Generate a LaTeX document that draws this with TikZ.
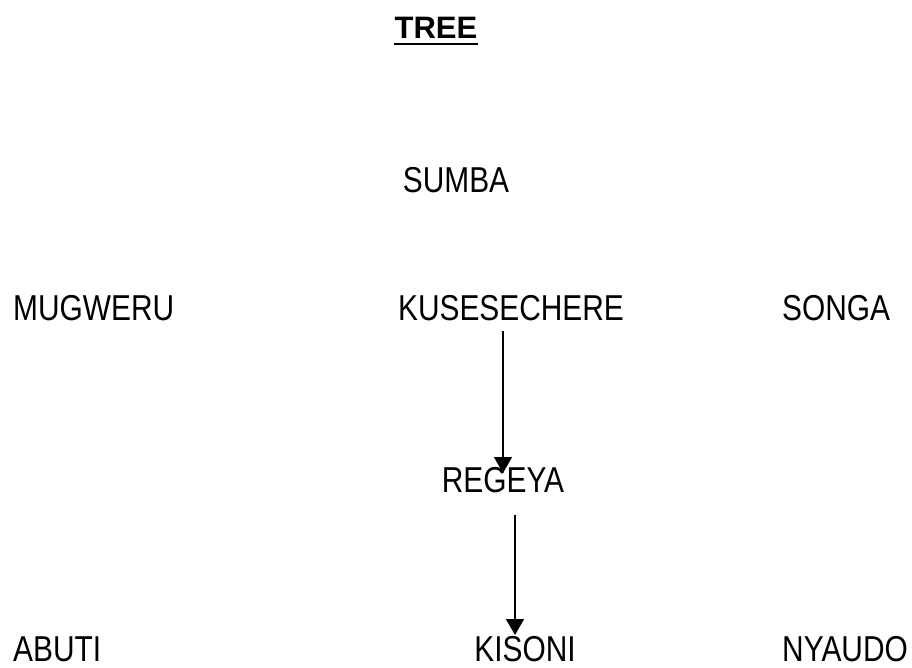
\documentclass[tikz,border=0pt]{standalone}
\usepackage{fontspec}
\setmainfont{Liberation Sans}[FakeStretch=0.83]
\newfontfamily\titlefont{Liberation Sans}
\usepackage{tikz}
\usetikzlibrary{calc,arrows.meta}

\begin{document}
\begin{tikzpicture}[x=1pt,y=-1pt,
        place/.style={inner sep=0pt,font=\fontsize{36}{40}\selectfont},
        link/.style={line width=1.6pt,-{Triangle[length=16pt,width=18pt]}}]
                \useasboundingbox (0,0) rectangle (912,667);
                \node [inner sep=0pt,anchor=base,font=\titlefont\bfseries\fontsize{31}{36}\selectfont] (tree) at (436,38) {TREE};
                \draw [line width=2.5pt] ([yshift=-6pt]tree.base west)--([yshift=-6pt]tree.base east);
                \node [place,anchor=base] (sumba) at (456,192) {SUMBA};
                \node [place,anchor=base west] (mugweru) at (13,320) {MUGWERU};
                \node [place,anchor=base] (kusesechere) at (511,320) {KUSESECHERE};
                \node [place,anchor=base west] (songa) at (782,320) {SONGA};
                \node [place,anchor=base] (regeya) at (503,492) {REGEYA};
                \node [place,anchor=base west] (abuti) at (13,661) {ABUTI};
                \node [place,anchor=base] (kisoni) at (525,661) {KISONI};
                \node [place,anchor=base west] (nyaudo) at (782,661) {NYAUDO};
                \draw [link] ($(kusesechere.base)+(-8,11)$)--($(regeya.base)+(0,-19)$);
                \draw [link] ($(regeya.base)+(12,23)$)--($(kisoni.base)+(-10,-26)$);
            \end{tikzpicture}
\end{document}
